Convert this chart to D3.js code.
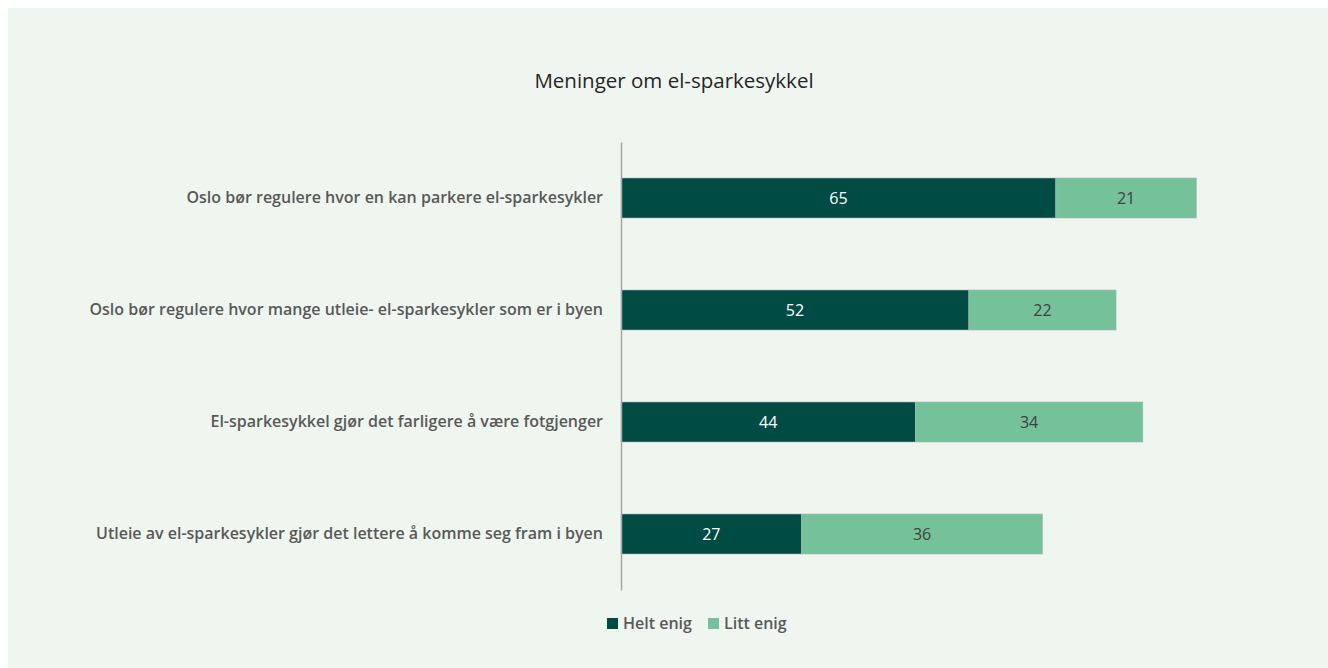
<!DOCTYPE html>
<html>
<head>
<meta charset="utf-8">
<script src="https://cdn.jsdelivr.net/npm/d3@7"></script>
<style>
  html, body { margin: 0; padding: 0; background: #ffffff; }
  svg { display: block; }
  text { font-family: "Open Sans", "Noto Sans", sans-serif; }
</style>
</head>
<body>
<div id="chart"></div>
<script>
'use strict';

var categories = [
    "Oslo bør regulere hvor en kan parkere el-sparkesykler",
    "Oslo bør regulere hvor mange utleie- el-sparkesykler som er i byen",
    "El-sparkesykkel gjør det farligere å være fotgjenger ",
    "Utleie av el-sparkesykler gjør det lettere å komme seg fram i byen"
];
var seriesNames = ["Helt enig", "Litt enig"];
var heltEnig = [65, 52, 44, 27];
var littEnig = [21, 22, 34, 36];
var colors = ["#004b43", "#75c19a"];
var textColors = ["#ffffff", "#404040"];

var W = 1328, H = 668;
var svg = d3.select("#chart").append("svg")
    .attr("width", W)
    .attr("height", H);

// panel background
svg.append("rect")
    .attr("x", 8).attr("y", 8)
    .attr("width", W - 8).attr("height", H - 8)
    .attr("fill", "#eff6ef");

svg.append("text")
    .attr("x", 674).attr("y", 88)
    .attr("text-anchor", "middle")
    .attr("font-size", 20.5)
    .attr("font-weight", 500)
    .attr("fill", "#262626")
    .text("Meninger om el-sparkesykkel");

var x = d3.scaleLinear().domain([0, 100]).range([621, 1290]);
var y = d3.scaleBand().domain(categories).range([142, 590]).paddingInner(0.643).paddingOuter(0.3215);

var rows = categories.map(function(c, i) {
    return {cat: c, vals: [heltEnig[i], littEnig[i]]};
});

var stacks = [];
rows.forEach(function(r) {
    var start = 0;
    r.vals.forEach(function(v, s) {
        stacks.push({cat: r.cat, s: s, x0: start, x1: start + v, v: v});
        start += v;
    });
});

svg.append("g").selectAll("rect")
    .data(stacks)
    .enter()
    .append("rect")
    .attr("x", function(d) { return x(d.x0); })
    .attr("y", function(d) { return y(d.cat); })
    .attr("width", function(d) { return x(d.x1) - x(d.x0); })
    .attr("height", y.bandwidth())
    .attr("fill", function(d) { return colors[d.s]; })
    .attr("stroke", "#a9b8ae")
    .attr("stroke-width", 0.6);

svg.append("g").selectAll("text")
    .data(stacks)
    .enter()
    .append("text")
    .attr("x", function(d) { return (x(d.x0) + x(d.x1)) / 2; })
    .attr("y", function(d) { return y(d.cat) + y.bandwidth() / 2; })
    .attr("dy", "0.35em")
    .attr("text-anchor", "middle")
    .attr("font-size", 16)
    .attr("font-weight", 500)
    .attr("fill", function(d) { return textColors[d.s]; })
    .text(function(d) { return d.v; });

// category axis
var yAxis = svg.append("g")
    .attr("transform", "translate(" + x(0) + ",0)")
    .call(d3.axisLeft(y).tickSize(0).tickPadding(18));
yAxis.select(".domain").attr("stroke", "#a6a6a6").attr("stroke-width", 1.5);
yAxis.selectAll("text")
    .attr("font-size", 16)
    .attr("font-weight", 600)
    .attr("fill", "#595959")
    .style("font-family", "'Open Sans', 'Noto Sans', sans-serif");

// legend
var legend = svg.append("g");
var legX = [607, 708];
seriesNames.forEach(function(n, i) {
    legend.append("rect")
        .attr("x", legX[i]).attr("y", 618)
        .attr("width", 11).attr("height", 11)
        .attr("fill", colors[i]);
    legend.append("text")
        .attr("x", legX[i] + 16).attr("y", 623)
        .attr("dy", "0.35em")
        .attr("font-size", 16)
        .attr("font-weight", 600)
        .attr("fill", "#595959")
        .text(n);
});
</script>
</body>
</html>
